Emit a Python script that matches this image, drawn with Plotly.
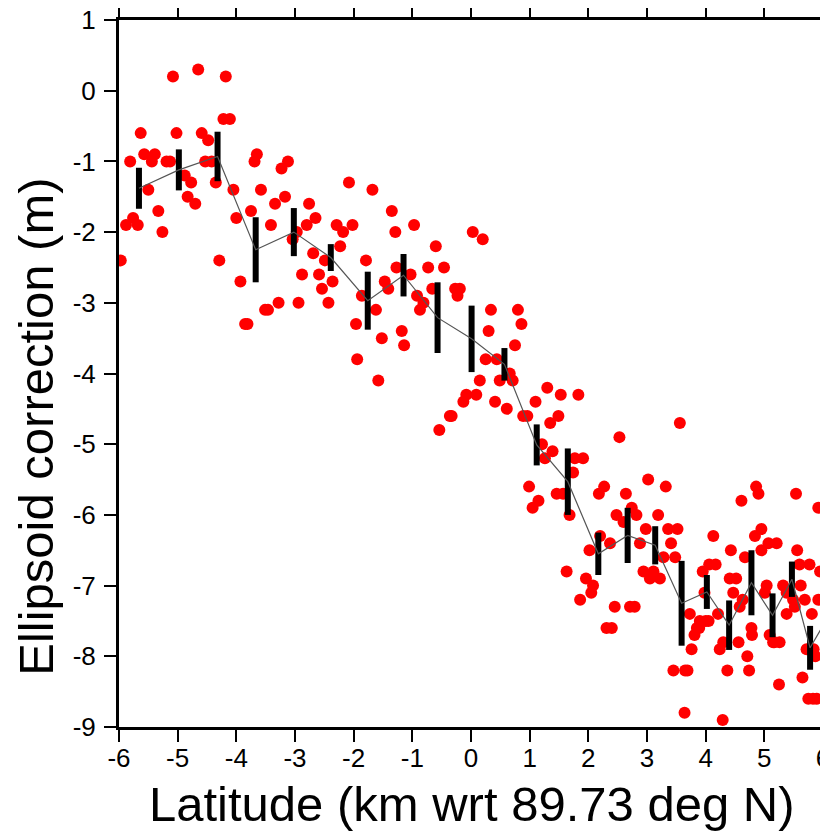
import plotly.graph_objects as go

# raw ellipsoid correction samples (km from 89.73 N, metres)
lat_pts = [
    -5.08, -4.65, -4.18, -4.22, -4.11, -5.63, -5.02, -4.59, -4.48, -5.81,
    -5.57, -5.39, -5.44, -5.19, -5.13, -4.53, -4.42, -4.88, -4.77, -4.83,
    -4.70, -5.50, -5.33, -5.26, -5.88, -5.76, -5.68, -4.35, -4.05, -4.00,
    -3.75, -3.65, -3.69, -3.58, -3.41, -3.34, -3.23, -3.12, -3.17, -2.76,
    -2.65, -2.80, -3.04, -2.08, -2.29, -2.18, -2.02, -2.23, -2.69,
    -5.97, -4.29, -3.93, -3.85, -3.81, -3.51, -3.46, -3.28, -2.94, -2.43,
    -2.97, -2.49, -2.88, -2.59, -2.54, -2.36, -1.86, -1.96, -1.94,
    -1.68, -1.35, -0.97, -1.29, -0.60, 0.03, 0.20, -1.79, -1.27, -1.03,
    -0.73, -0.46, -1.47, -1.41, -0.66, -0.27, -0.19, -0.23, -0.92, -0.81,
    -0.87, -1.62, 0.34, 0.80, 0.86, 0.30, -1.18, -1.52, -1.14, 0.75,
    0.25, 0.44, -1.58, 0.15, 0.49, 0.71, 0.66, -0.08, 0.09, 0.41,
    1.10, 1.30, 1.53, 1.83,
    -0.13, 0.61, -0.36, -0.33, -0.54, 0.89, 0.96, 1.49, 1.35, 1.21,
    1.39, 1.26, 1.77, 1.74, 0.99, 1.15, 1.05, 1.46, 1.57, 1.68, 1.63,
    3.56, 2.53, 1.91, 3.02, 3.32, 2.27, 2.18, 2.64, 4.61, 4.86,
    4.90, 5.54, 5.92, 2.48, 2.60, 2.82, 3.19, 2.98, 3.36, 3.52,
    2.74, 2.37, 2.20, 2.88, 3.41, 2.02, 4.13, 4.43, 4.67, 4.84,
    4.95, 5.07, 5.21, 4.95, 5.56, 3.28, 3.48, 1.96, 2.08, 2.05,
    1.86, 2.45, 2.71, 2.79, 2.94, 3.11, 3.05, 3.22, 3.95, 4.06,
    4.17, 3.98, 4.41, 4.52, 4.47, 4.63, 4.58, 5.04, 5.01, 5.32,
    5.38, 5.49, 5.60, 5.77, 5.62, 5.69, 5.95, 5.92, 5.38, 5.81,
    3.73, 4.21, 3.90, 4.00, 3.85, 4.78,
    2.31, 2.40, 3.45, 3.65, 3.69, 3.64, 4.05, 3.81, 3.89, 3.76,
    4.30, 4.24, 4.37, 4.29, 4.56, 4.79, 4.71, 4.74, 5.09, 5.17,
    5.26, 5.15, 5.25, 5.52, 5.72, 5.84, 5.87, 5.65, 5.75, 5.89, 5.83,
]
corr_pts = [
    0.2, 0.3, 0.2, -0.4, -0.4, -0.6, -0.6, -0.6, -0.7, -1.0,
    -0.9, -0.9, -1.0, -1.0, -1.0, -1.0, -1.0, -1.2, -1.3, -1.5,
    -1.6, -1.4, -1.7, -2.0, -1.9, -1.8, -1.9, -1.3, -1.4, -1.8,
    -1.7, -0.9, -1.0, -1.4, -1.9, -1.6, -1.1, -1.0, -1.5, -1.6,
    -1.8, -1.9, -2.1, -1.3, -1.9, -2.0, -1.9, -2.2, -2.3,
    -2.4, -2.4, -2.7, -3.3, -3.3, -3.1, -3.1, -3.0, -3.0, -3.0,
    -2.0, -2.4, -2.6, -2.6, -2.8, -2.7, -2.9, -3.3, -3.8,
    -1.4, -1.7, -1.9, -2.0, -2.2, -2.0, -2.1, -2.4, -2.5, -2.6,
    -2.5, -2.5, -2.7, -2.8, -2.8, -2.8, -2.8, -2.9, -2.9, -3.0,
    -3.1, -3.1, -3.1, -3.1, -3.3, -3.4, -3.4, -3.5, -3.6, -3.6,
    -3.8, -3.8, -4.1, -4.1, -4.1, -4.1, -4.0, -4.3, -4.3, -4.4,
    -4.4, -4.2, -4.3, -4.3,
    -4.4, -4.5, -4.6, -4.6, -4.8, -4.6, -4.6, -4.6, -4.7, -5.0,
    -5.1, -5.2, -5.2, -5.4, -5.6, -5.8, -5.9, -5.7, -5.7, -6.0, -6.8,
    -4.7, -4.9, -5.2, -5.5, -5.6, -5.6, -5.7, -5.7, -5.8, -5.6,
    -5.7, -5.7, -5.9, -6.0, -6.1, -6.0, -6.0, -6.2, -6.2, -6.2,
    -5.9, -6.4, -6.3, -6.4, -6.4, -6.5, -6.3, -6.5, -6.6, -6.3,
    -6.2, -6.4, -6.4, -6.5, -6.5, -6.6, -6.6, -6.9, -7.0, -7.1,
    -7.2, -7.3, -7.3, -7.3, -6.8, -6.8, -6.9, -6.9, -6.8, -6.7,
    -6.7, -7.1, -6.9, -6.9, -7.1, -7.2, -7.3, -7.0, -7.1, -7.0,
    -7.1, -7.2, -6.7, -6.7, -7.0, -7.2, -6.8, -7.2, -7.4, -7.4,
    -7.4, -7.4, -7.5, -7.5, -7.6, -7.6,
    -7.6, -7.6, -8.2, -8.2, -8.2, -8.8, -7.5, -7.7, -7.6, -7.9,
    -7.8, -7.9, -8.2, -8.9, -7.8, -7.7, -8.0, -8.2, -7.7, -7.8,
    -7.8, -7.8, -8.4, -7.3, -7.9, -7.9, -8.0, -8.3, -8.6, -8.6, -8.6,
]

# binned means and spread
bin_lat = [-5.66, -4.98, -4.32, -3.67, -3.02, -2.39, -1.76, -1.15, -0.57, 0.01,
           0.57, 1.12, 1.65, 2.17, 2.67, 3.14, 3.59, 4.02, 4.40, 4.78,
           5.14, 5.47, 5.78, 6.08]
bin_mean = [-1.38, -1.12, -0.93, -2.25, -2.00, -2.36, -2.97, -2.61, -3.21, -3.51,
            -3.87, -5.01, -5.53, -6.55, -6.29, -6.43, -7.25, -7.09, -7.56, -6.96,
            -7.42, -6.91, -7.88, -7.45]
bin_std = [0.29, 0.29, 0.35, 0.46, 0.34, 0.19, 0.41, 0.30, 0.50, 0.47,
           0.23, 0.29, 0.47, 0.30, 0.39, 0.27, 0.60, 0.24, 0.35, 0.46,
           0.31, 0.25, 0.31, 0.30]

x_ticks = list(range(-6, 7))
x_labels = [str(v) for v in x_ticks]
y_ticks = list(range(-9, 2))
y_labels = [str(v) for v in y_ticks]

FONT = "Liberation Sans"

fig = go.Figure()

fig.add_trace(go.Scatter(
    x=lat_pts, y=corr_pts, mode="markers",
    marker=dict(color="#ff0000", size=12, line=dict(width=0)),
    showlegend=False,
))

fig.add_trace(go.Scatter(
    x=bin_lat, y=bin_mean, mode="lines",
    line=dict(color="#555555", width=1.2),
    error_y=dict(type="data", array=bin_std, color="black",
                 thickness=6, width=0),
    showlegend=False,
))

axis_common = dict(
    showgrid=False, zeroline=False, automargin=False,
    showline=True, linecolor="black", linewidth=3, mirror="ticks",
    ticks="outside", ticklen=12, tickwidth=1.5, tickcolor="black",
    ticklabeloverflow="allow",
    tickfont=dict(family=FONT, size=26, color="black"),
)

# the page body adds an 8px offset, so the figure is a little smaller than the window
fig.update_layout(
    width=820, height=824,
    margin=dict(l=111, r=5, t=12, b=105),
    paper_bgcolor="white", plot_bgcolor="white",
    xaxis=dict(range=[-6, 6], tickvals=x_ticks, ticktext=x_labels,
               ticklabelstandoff=-6, **axis_common),
    yaxis=dict(range=[-9, 1], tickvals=y_ticks, ticktext=y_labels,
               ticklabelstandoff=3, **axis_common),
)

# axis titles
fig.add_annotation(
    text="Latitude (km wrt 89.73 deg N)", xref="paper", yref="paper",
    x=0.5, y=-0.109, xanchor="center", yanchor="middle", showarrow=False,
    font=dict(family=FONT, size=49, color="black"),
)
fig.add_annotation(
    text="Ellipsoid correction (m)", xref="paper", yref="paper",
    x=-0.119, y=0.425, xanchor="center", yanchor="middle", showarrow=False,
    textangle=-90, font=dict(family=FONT, size=49, color="black"),
)

fig.write_html("out.html")
